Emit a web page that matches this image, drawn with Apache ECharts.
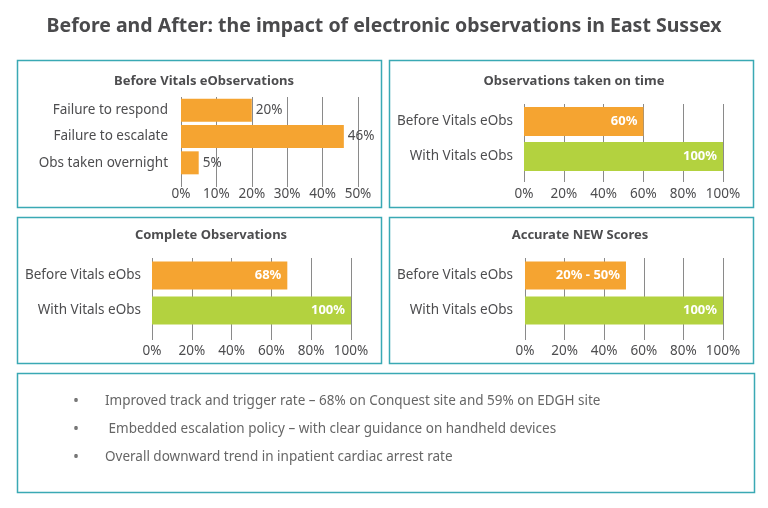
<!DOCTYPE html>
<html><head><meta charset="utf-8">
<script src="https://cdn.jsdelivr.net/npm/echarts@6/dist/echarts.min.js"></script>
<style>html,body{margin:0;padding:0;background:#fff}#c{width:768px;height:508px}</style>
</head><body><div id="c"></div>
<script>
// ---- data ----
var chartTitle = 'Before and After: the impact of electronic observations in East Sussex';
var panelTitles = ['Before Vitals eObservations', 'Observations taken on time', 'Complete Observations', 'Accurate NEW Scores'];
var p1Cats = ['Failure to respond', 'Failure to escalate', 'Obs taken overnight'];
var p1Vals = [20, 46, 5];
var p1Labels = ['20%', '46%', '5%'];
var cmpCats = ['Before Vitals eObs', 'With Vitals eObs'];
var p2Vals = [60, 100];
var p2Labels = ['60%', '100%'];
var p3Vals = [68, 100];
var p3Labels = ['68%', '100%'];
var p4Vals = [51, 100];
var p4Labels = ['20% - 50%', '100%'];
var bullets = [
  'Improved track and trigger rate \u2013 68% on Conquest site and 59% on EDGH site',
  ' Embedded escalation policy \u2013 with clear guidance on handheld devices',
  'Overall downward trend in inpatient cardiac arrest rate'
];

var ORANGE = '#F5A431', GREEN = '#B3D23F', TEAL = '#3AA9B4', TXT = '#4D4D4F', GRID = '#8a8a8a';
var FONT = '"Noto Sans", sans-serif';

var chart = echarts.init(document.getElementById('c'));

var grids = [
  {left: 181, top: 97, width: 177, height: 79},
  {left: 524, top: 104, width: 199, height: 70},
  {left: 152, top: 258, width: 199, height: 70},
  {left: 525, top: 258, width: 198, height: 70}
];
var xMax = [50, 100, 100, 100];
var xInt = [10, 20, 20, 20];
var tickLen = [11, 8, 12, 12];
var xMargin = [11, 13, 16, 16];
var yMargin = [13, 11, 11, 12];
var barW = [23, 29, 28, 28];

var xAxes = grids.map(function (g, i) {
  return {
    gridIndex: i, type: 'value', min: 0, max: xMax[i], interval: xInt[i],
    axisLine: {show: false},
    axisTick: {show: true, length: tickLen[i], lineStyle: {color: GRID, width: 1}},
    splitLine: {show: true, lineStyle: {color: GRID, width: 1}},
    axisLabel: {formatter: '{value}%', color: TXT, fontSize: 13.5, fontFamily: FONT, margin: xMargin[i]}
  };
});
var catsList = [p1Cats, cmpCats, cmpCats, cmpCats];
var yAxes = grids.map(function (g, i) {
  return {
    gridIndex: i, type: 'category', inverse: true, data: catsList[i],
    axisLine: {show: false}, axisTick: {show: false},
    axisLabel: {color: TXT, fontSize: 13.5, fontFamily: FONT, margin: yMargin[i]}
  };
});

function barData(vals, colors) {
  return vals.map(function (v, k) { return {value: v, itemStyle: {color: colors[k]}}; });
}
var series = [
  {type: 'bar', xAxisIndex: 0, yAxisIndex: 0, barWidth: barW[0],
    data: barData(p1Vals, [ORANGE, ORANGE, ORANGE]),
    label: {show: true, position: 'right', distance: 4, color: TXT, fontSize: 13.5, fontFamily: FONT,
      formatter: function (p) { return p1Labels[p.dataIndex]; }}},
  {type: 'bar', xAxisIndex: 1, yAxisIndex: 1, barWidth: barW[1],
    data: barData(p2Vals, [ORANGE, GREEN]),
    label: {show: true, position: 'insideRight', distance: 6, color: '#fff', fontWeight: 'bold', fontSize: 13, fontFamily: FONT,
      formatter: function (p) { return p2Labels[p.dataIndex]; }}},
  {type: 'bar', xAxisIndex: 2, yAxisIndex: 2, barWidth: barW[2],
    data: barData(p3Vals, [ORANGE, GREEN]),
    label: {show: true, position: 'insideRight', distance: 6, color: '#fff', fontWeight: 'bold', fontSize: 13, fontFamily: FONT,
      formatter: function (p) { return p3Labels[p.dataIndex]; }}},
  {type: 'bar', xAxisIndex: 3, yAxisIndex: 3, barWidth: barW[3],
    data: barData(p4Vals, [ORANGE, GREEN]),
    label: {show: true, position: 'insideRight', distance: 6, color: '#fff', fontWeight: 'bold', fontSize: 13, fontFamily: FONT,
      formatter: function (p) { return p4Labels[p.dataIndex]; }}}
];

var titlePos = [[199, 70], [569, 70], [206, 224], [575, 224]];
var titles = [{text: chartTitle, left: 'center', top: 11,
  textStyle: {color: '#4a4a4c', fontSize: 19.5, fontWeight: 'bold', fontFamily: FONT}}];
panelTitles.forEach(function (t, i) {
  titles.push({text: t, left: titlePos[i][0], top: titlePos[i][1], textAlign: 'center',
    textStyle: {color: TXT, fontSize: 13, fontWeight: 'bold', fontFamily: FONT}});
});

var boxes = [[17, 60, 364, 147], [389, 60, 364, 147], [17, 217, 364, 146], [389, 217, 364, 146], [17, 373, 737, 119]];
var graphic = boxes.map(function (b) {
  return {type: 'rect', shape: {x: b[0] + 0.5, y: b[1] + 0.5, width: b[2], height: b[3]},
    style: {fill: 'none', stroke: TEAL, lineWidth: 1.5}, silent: true};
});
bullets.forEach(function (t, i) {
  var y = 401 + i * 28;
  graphic.push({type: 'text', x: 73, y: y, style: {text: '\u2022', fill: '#777', font: '16px ' + FONT, textVerticalAlign: 'middle'}});
  graphic.push({type: 'text', x: 105, y: y, style: {text: t, fill: '#666', font: '13.5px ' + FONT, textVerticalAlign: 'middle'}});
});

chart.setOption({
  animation: false,
  title: titles,
  grid: grids,
  xAxis: xAxes,
  yAxis: yAxes,
  series: series,
  graphic: graphic
});
</script></body></html>
